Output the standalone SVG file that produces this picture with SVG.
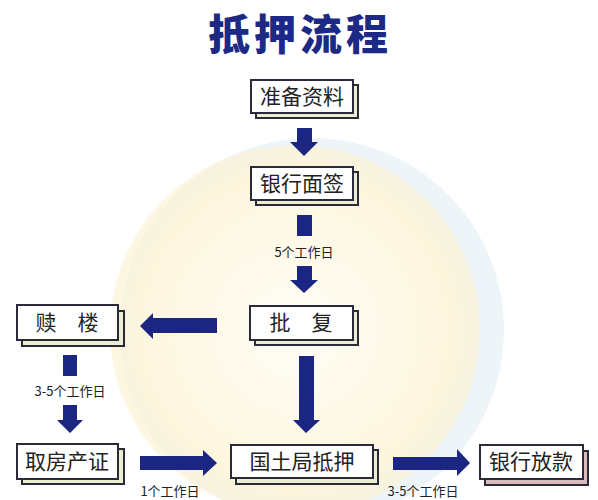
<svg xmlns="http://www.w3.org/2000/svg" width="598" height="500" viewBox="0 0 598 500">
<defs>
<style>
.box{fill:#ffffff;stroke:#2a2a3a;stroke-width:2}
.sh{fill:#eceed2;stroke:#2a2a3a;stroke-width:2}
.shp{fill:#d9b9bd;stroke:#2a2a3a;stroke-width:2}
.t{font-family:"Noto Sans CJK SC","Noto Sans",sans-serif;font-size:21px;fill:#222;text-anchor:middle}
.lbl{font-family:"Noto Sans CJK SC","Noto Sans",sans-serif;font-size:13px;fill:#222;text-anchor:middle}
.ar{fill:#1b2682}
</style>
<radialGradient id="bg" cx="0.5" cy="0.5" r="0.5">
<stop offset="0" stop-color="#fffdf6"/>
<stop offset="0.85" stop-color="#fdf6de"/>
<stop offset="1" stop-color="#fbf1d0" stop-opacity="0.6"/>
</radialGradient>
</defs>
<rect width="598" height="500" fill="#ffffff"/>
<circle cx="312" cy="330" r="192" fill="#eaf2f8" opacity="0.8"/>
<circle cx="295" cy="330" r="185" fill="url(#bg)"/>
<text x="300" y="50" font-family="'Noto Sans CJK SC',sans-serif" font-weight="900" font-size="42" fill="#1c2a86" text-anchor="middle" letter-spacing="4">抵押流程</text>

<g id="connectors">
<path class="ar" d="M297,128 H312 V142 H318 L304,156 L290,142 H297 Z"/>
<rect class="ar" x="297" y="215" width="15" height="21"/>
<text class="lbl" x="304" y="257">5个工作日</text>
<path class="ar" d="M297,266 H312 V280 H318 L304,293 L290,280 H297 Z"/>
<path class="ar" d="M217,318 V333 H153 V339 L140,326 L153,313 V318 Z"/>
<path class="ar" d="M299,356 H314 V420 H320 L306,433 L293,420 H299 Z"/>
<rect class="ar" x="63" y="355" width="14" height="21"/>
<text class="lbl" x="70" y="396">3-5个工作日</text>
<path class="ar" d="M63,405 H77 V420 H83 L70,433 L57,420 H63 Z"/>
<path class="ar" d="M140,456 H203 V450 L217,463 L203,476 V470 H140 Z"/>
<text class="lbl" x="170" y="496">1个工作日</text>
<path class="ar" d="M393,457 H457 V449 L470,463 L457,476 V470 H393 Z"/>
<text class="lbl" x="423" y="496">3-5个工作日</text>
</g>

<g id="n1"><rect class="sh" x="256" y="85" width="102" height="33"/><rect class="box" x="251" y="80" width="102" height="33"/><text class="t" x="302" y="104">准备资料</text></g>
<g id="n2"><rect class="sh" x="256" y="172" width="102" height="33"/><rect class="box" x="251" y="167" width="102" height="33"/><text class="t" x="302" y="191">银行面签</text></g>
<g id="n3"><rect class="sh" x="255" y="311" width="103" height="34"/><rect class="box" x="250" y="306" width="103" height="34"/><text class="t" x="301" y="330">批　复</text></g>
<g id="n4"><rect class="sh" x="22" y="311" width="102" height="35"/><rect class="box" x="17" y="305" width="101" height="35"/><text class="t" x="67" y="330">赎　楼</text></g>
<g id="n5"><rect class="sh" x="22" y="449" width="102" height="35"/><rect class="box" x="17" y="444" width="101" height="35"/><text class="t" x="67" y="469">取房产证</text></g>
<g id="n6"><rect class="sh" x="236" y="450" width="142" height="34"/><rect class="box" x="231" y="445" width="142" height="33"/><text class="t" x="302" y="469">国土局抵押</text></g>
<g id="n7"><rect class="shp" x="485" y="451" width="103" height="34"/><rect class="box" x="480" y="445" width="103" height="34"/><text class="t" x="531" y="469">银行放款</text></g>
</svg>
